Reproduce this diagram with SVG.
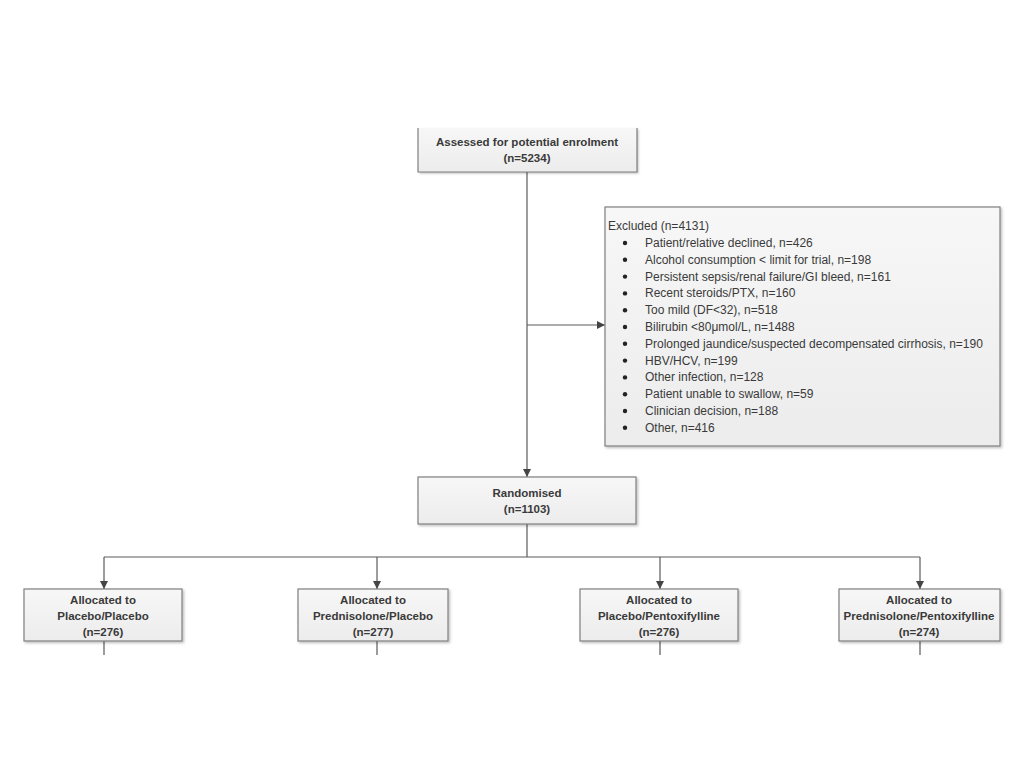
<svg xmlns="http://www.w3.org/2000/svg" width="1024" height="768" viewBox="0 0 1024 768">
<style>
.box{fill:url(#g);stroke:#7f7f7f;stroke-width:1.2}
.t{font-family:"Liberation Sans",Arial,sans-serif;font-size:11.5px;font-weight:bold;fill:#3a3a3a;text-anchor:middle}
.e{font-family:"Liberation Sans",Arial,sans-serif;font-size:12px;fill:#3a3a3a}
.c{fill:none;stroke:#5a5a5a;stroke-width:1.2}
.b{fill:#222}
</style>
<defs>
<linearGradient id="g" x1="0" y1="0" x2="0" y2="1"><stop offset="0" stop-color="#f7f7f7"/><stop offset="1" stop-color="#ececec"/></linearGradient>
<filter id="s" x="-5%" y="-5%" width="115%" height="130%"><feDropShadow dx="1.5" dy="1.5" stdDeviation="1" flood-color="#000" flood-opacity="0.25"/></filter>
<marker id="a" viewBox="0 0 10 10" refX="10" refY="5" markerWidth="7" markerHeight="7" orient="auto"><path d="M0,0 L10,5 L0,10 z" fill="#444"/></marker>
</defs>
<rect width="1024" height="768" fill="#fff"/>
<g id="connectors">
<path class="c" d="M527,172 V477" marker-end="url(#a)"/>
<path class="c" d="M527,325 H605" marker-end="url(#a)"/>
<path class="c" d="M527,524 V557"/>
<path class="c" d="M104,557 H920"/>
<path class="c" d="M104,557 V589" marker-end="url(#a)"/>
<path class="c" d="M377,557 V589" marker-end="url(#a)"/>
<path class="c" d="M660,557 V589" marker-end="url(#a)"/>
<path class="c" d="M920,557 V589" marker-end="url(#a)"/>
<path class="c" d="M104,641 V655 M377,641 V655 M660,641 V655 M920,641 V655"/>
</g>
<g id="assessed">
<rect x="418" y="128" width="219" height="44" fill="url(#g)" filter="url(#s)"/>
<path d="M418,128 V172 H637 V128" fill="none" stroke="#7f7f7f" stroke-width="1.2"/>
<text class="t" x="527" y="146">Assessed for potential enrolment</text>
<text class="t" x="527" y="162">(n=5234)</text>
</g>
<g id="excluded">
<rect class="box" x="605" y="207" width="395" height="239" filter="url(#s)"/>
<text class="e" x="608" y="230">Excluded (n=4131)</text>
<g>
<circle class="b" cx="625" cy="243" r="2.2"/><text class="e" x="645" y="247">Patient/relative declined, n=426</text>
<circle class="b" cx="625" cy="259.8" r="2.2"/><text class="e" x="645" y="263.8">Alcohol consumption &lt; limit for trial, n=198</text>
<circle class="b" cx="625" cy="276.6" r="2.2"/><text class="e" x="645" y="280.6">Persistent sepsis/renal failure/GI bleed, n=161</text>
<circle class="b" cx="625" cy="293.4" r="2.2"/><text class="e" x="645" y="297.4">Recent steroids/PTX, n=160</text>
<circle class="b" cx="625" cy="310.2" r="2.2"/><text class="e" x="645" y="314.2">Too mild (DF&lt;32), n=518</text>
<circle class="b" cx="625" cy="327" r="2.2"/><text class="e" x="645" y="331">Bilirubin &lt;80μmol/L, n=1488</text>
<circle class="b" cx="625" cy="343.8" r="2.2"/><text class="e" x="645" y="347.8">Prolonged jaundice/suspected decompensated cirrhosis, n=190</text>
<circle class="b" cx="625" cy="360.6" r="2.2"/><text class="e" x="645" y="364.6">HBV/HCV, n=199</text>
<circle class="b" cx="625" cy="377.4" r="2.2"/><text class="e" x="645" y="381.4">Other infection, n=128</text>
<circle class="b" cx="625" cy="394.2" r="2.2"/><text class="e" x="645" y="398.2">Patient unable to swallow, n=59</text>
<circle class="b" cx="625" cy="411" r="2.2"/><text class="e" x="645" y="415">Clinician decision, n=188</text>
<circle class="b" cx="625" cy="427.8" r="2.2"/><text class="e" x="645" y="431.8">Other, n=416</text>
</g>
</g>
<g id="randomised">
<rect class="box" x="418" y="477" width="218" height="47" filter="url(#s)"/>
<text class="t" x="527" y="497">Randomised</text>
<text class="t" x="527" y="513">(n=1103)</text>
</g>
<g id="alloc1">
<rect class="box" x="24" y="589" width="158" height="52" filter="url(#s)"/>
<text class="t" x="103" y="604">Allocated to</text>
<text class="t" x="103" y="620">Placebo/Placebo</text>
<text class="t" x="103" y="636">(n=276)</text>
</g>
<g id="alloc2">
<rect class="box" x="298" y="589" width="150" height="52" filter="url(#s)"/>
<text class="t" x="373" y="604">Allocated to</text>
<text class="t" x="373" y="620">Prednisolone/Placebo</text>
<text class="t" x="373" y="636">(n=277)</text>
</g>
<g id="alloc3">
<rect class="box" x="580" y="589" width="158" height="52" filter="url(#s)"/>
<text class="t" x="659" y="604">Allocated to</text>
<text class="t" x="659" y="620">Placebo/Pentoxifylline</text>
<text class="t" x="659" y="636">(n=276)</text>
</g>
<g id="alloc4">
<rect class="box" x="839" y="589" width="161" height="52" filter="url(#s)"/>
<text class="t" x="919" y="604">Allocated to</text>
<text class="t" x="919" y="620">Prednisolone/Pentoxifylline</text>
<text class="t" x="919" y="636">(n=274)</text>
</g>
</svg>
